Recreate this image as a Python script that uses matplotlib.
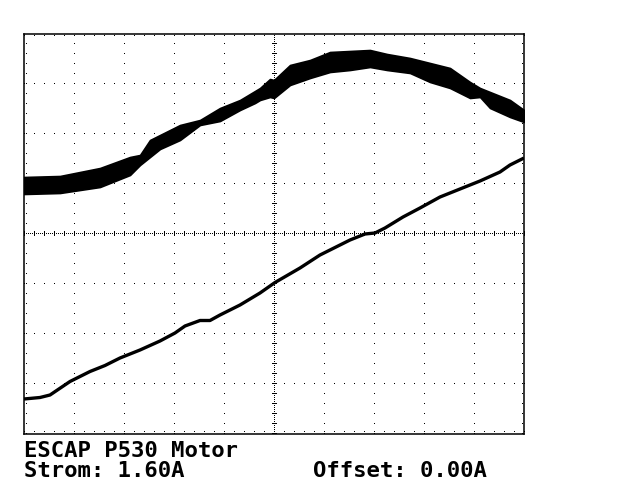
import numpy as np
import matplotlib
matplotlib.use("Agg")
import matplotlib.pyplot as plt

# Screen in divisions: x 0..10, y 0..8
# Upper trace (noisy band): envelope
band_x = [0.0, 0.72, 1.52, 2.12, 2.32, 2.52, 2.72, 3.12, 3.52, 3.92, 4.32, 4.62,
          4.72, 4.92, 5.0, 5.32, 5.72, 6.12, 6.52, 6.92, 7.26, 7.72, 8.12, 8.52,
          8.92, 9.12, 9.32, 9.72, 10.0]
band_hi = [5.14, 5.16, 5.32, 5.54, 5.58, 5.88, 5.98, 6.18, 6.28, 6.52, 6.68, 6.86,
           6.92, 7.10, 7.08, 7.38, 7.48, 7.64, 7.66, 7.68, 7.60, 7.52, 7.42, 7.32,
           7.04, 6.92, 6.84, 6.68, 6.48]
band_lo = [4.80, 4.82, 4.94, 5.18, 5.38, 5.54, 5.70, 5.88, 6.18, 6.26, 6.48, 6.62,
           6.68, 6.74, 6.72, 6.98, 7.12, 7.24, 7.28, 7.34, 7.28, 7.22, 7.04, 6.92,
           6.72, 6.74, 6.52, 6.34, 6.24]

# Lower trace (ramp)
ramp_x = [0.0, 0.32, 0.52, 0.92, 1.32, 1.62, 1.92, 2.32, 2.72, 3.02, 3.22, 3.52,
          3.72, 3.92, 4.32, 4.72, 5.02, 5.52, 5.92, 6.52, 6.82, 7.02, 7.22, 7.58,
          7.92, 8.32, 8.72, 9.12, 9.52, 9.72, 10.0]
ramp_y = [0.70, 0.73, 0.78, 1.05, 1.25, 1.37, 1.52, 1.68, 1.86, 2.02, 2.16, 2.27,
          2.27, 2.38, 2.58, 2.82, 3.03, 3.32, 3.58, 3.88, 4.00, 4.02, 4.12, 4.34,
          4.52, 4.74, 4.90, 5.06, 5.24, 5.38, 5.52]

title_line = "ESCAP P530 Motor"
strom_text = "Strom: 1.60A"
offset_text = "Offset: 0.00A"

W, H = 640, 480
fig = plt.figure(figsize=(6.4, 4.8), dpi=100)
fig.patch.set_facecolor("white")
ax = fig.add_axes([24 / W, 1 - 434 / H, 500 / W, 400 / H])
ax.set_xlim(0, 10)
ax.set_ylim(0, 8)
ax.set_xticks([])
ax.set_yticks([])
for s in ax.spines.values():
    s.set_linewidth(1.1)
    s.set_color("black")

# dotted grid (one pixel dots every 10 px)
step = 0.2
xs_fine = np.arange(0, 10.0001, step)
ys_fine = np.arange(0, 8.0001, step)
gx, gy = [], []
for xv in range(1, 10):
    if xv == 5:
        continue
    gx += [xv] * len(ys_fine)
    gy += list(ys_fine)
for yv in range(1, 8):
    if yv == 4:
        continue
    gx += list(xs_fine)
    gy += [yv] * len(xs_fine)
# border inner ticks
d = 0.04
gx += [d] * len(ys_fine) + [10 - d] * len(ys_fine) + list(xs_fine) + list(xs_fine)
gy += list(ys_fine) + list(ys_fine) + [d * 0.8] * len(xs_fine) + [8 - d * 0.8] * len(xs_fine)
ax.plot(gx, gy, ",", color="black")

# centre lines: dense dotted with small ticks
cx = np.arange(0, 10.0001, 0.04)
cy = np.arange(0, 8.0001, 0.04)
ax.plot(cx, [4] * len(cx), ",", color="black")
ax.plot([5] * len(cy), cy, ",", color="black")
tx, ty = [], []
for yv in ys_fine:
    for dx in (-0.04, -0.02, 0.02, 0.04):
        tx.append(5 + dx); ty.append(yv)
for xv in xs_fine:
    for dy in (-0.04, -0.02, 0.02, 0.04):
        tx.append(xv); ty.append(4 + dy)
ax.plot(tx, ty, ",", color="black")

# traces
ax.fill_between(band_x, band_lo, band_hi, color="black", lw=1.2, ec="black")
ax.plot(ramp_x, ramp_y, color="black", lw=2.4, solid_capstyle="butt")

font = dict(family="DejaVu Sans Mono", weight="bold", size=16, color="black")
fig.text(24 / W, 1 - 457 / H, title_line, ha="left", va="baseline", **font)
fig.text(24 / W, 1 - 477 / H, strom_text, ha="left", va="baseline", **font)
fig.text(313 / W, 1 - 477 / H, offset_text, ha="left", va="baseline", **font)

fig.savefig("out.png", dpi=100, facecolor="white")
